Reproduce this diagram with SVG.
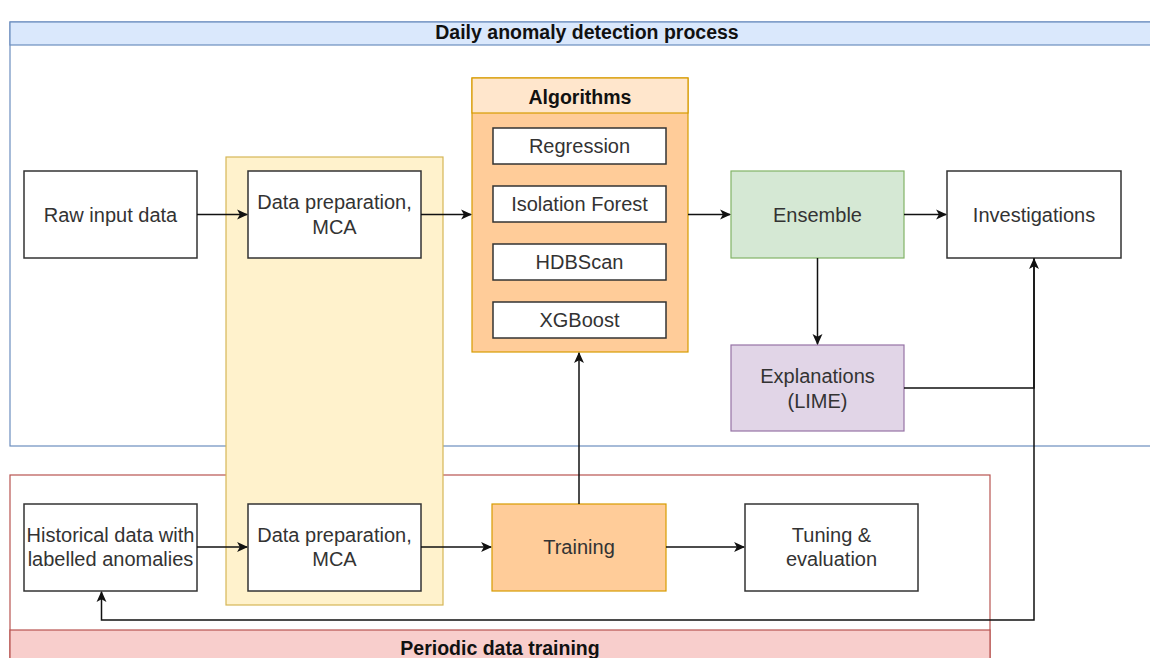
<svg xmlns="http://www.w3.org/2000/svg" width="1150" height="658" viewBox="0 0 1150 658">
<style>
text{font-family:"Liberation Sans",Arial,sans-serif;font-size:20px;fill:#333;text-anchor:middle;dominant-baseline:central}
.b{font-weight:bold;fill:#111;font-size:19.5px}
.plain{fill:#fff;stroke:#333;stroke-width:1.5}
.c{fill:none;stroke:#111;stroke-width:1.5}
</style>
<defs>
<marker id="ah" viewBox="0 0 10 10" refX="9" refY="5" markerWidth="11" markerHeight="11" markerUnits="userSpaceOnUse" orient="auto">
<path d="M0,0.5 L10,5 L0,9.5 L2.5,5 z" fill="#111"/>
</marker>
</defs>
<rect width="1150" height="658" fill="#fff"/>
<g id="daily">
<rect x="10" y="22" width="1150" height="424" fill="#fff" stroke="#6c8ebf" stroke-width="1.2"/>
<rect x="10" y="22" width="1150" height="23" fill="#dae8fc" stroke="#6c8ebf" stroke-width="1.2"/>
<text class="b" x="587" y="32">Daily anomaly detection process</text>
</g>
<g id="periodic">
<rect x="10" y="475" width="980" height="200" fill="none" stroke="#b85450" stroke-width="1.2"/>
<rect x="10" y="630" width="980" height="45" fill="#f8cecc" stroke="#b85450" stroke-width="1.2"/>
<text class="b" x="500" y="648">Periodic data training</text>
</g>
<g id="prep-band"><rect x="226" y="157" width="217" height="448" fill="#fff2cc" stroke="#d6b656" stroke-width="1.2"/></g>
<g id="raw"><rect class="plain" x="24" y="171" width="173" height="87"/><text x="110.5" y="214.5">Raw input data</text></g>
<g id="prep1"><rect class="plain" x="248" y="171" width="173" height="87"/><text x="334.5" y="202">Data preparation,</text><text x="334.5" y="227">MCA</text></g>
<g id="algorithms">
<rect x="472" y="78" width="216" height="274" fill="#ffcc99" stroke="#d79b00" stroke-width="1.2"/>
<rect x="472" y="78" width="216" height="35" fill="#ffe6cc" stroke="#d79b00" stroke-width="1.2"/>
<text class="b" x="580" y="97">Algorithms</text>
</g>
<g id="regression"><rect class="plain" x="493" y="128" width="173" height="36"/><text x="579.5" y="146">Regression</text></g>
<g id="iforest"><rect class="plain" x="493" y="186" width="173" height="36"/><text x="579.5" y="204">Isolation Forest</text></g>
<g id="hdbscan"><rect class="plain" x="493" y="244" width="173" height="36"/><text x="579.5" y="262">HDBScan</text></g>
<g id="xgboost"><rect class="plain" x="493" y="302" width="173" height="36"/><text x="579.5" y="320">XGBoost</text></g>
<g id="ensemble"><rect x="731" y="171" width="173" height="87" fill="#d5e8d4" stroke="#82b366" stroke-width="1.2"/><text x="817.5" y="214.5">Ensemble</text></g>
<g id="investigations"><rect class="plain" x="947" y="171" width="174" height="87"/><text x="1034" y="214.5">Investigations</text></g>
<g id="explanations"><rect x="731" y="345" width="173" height="86" fill="#e1d5e7" stroke="#9673a6" stroke-width="1.2"/><text x="817.5" y="376">Explanations</text><text x="817.5" y="401">(LIME)</text></g>
<g id="historical"><rect class="plain" x="24" y="504" width="173" height="87"/><text x="110.5" y="535">Historical data with</text><text x="110.5" y="559">labelled anomalies</text></g>
<g id="prep2"><rect class="plain" x="248" y="504" width="173" height="87"/><text x="334.5" y="535">Data preparation,</text><text x="334.5" y="559">MCA</text></g>
<g id="training"><rect x="492" y="504" width="174" height="87" fill="#ffcc99" stroke="#d79b00" stroke-width="1.2"/><text x="579" y="547">Training</text></g>
<g id="tuning"><rect class="plain" x="745" y="504" width="173" height="87"/><text x="831.5" y="535">Tuning &amp;</text><text x="831.5" y="559">evaluation</text></g>
<g id="connectors">
<path class="c" d="M197,214.5 H247" marker-end="url(#ah)"/>
<path class="c" d="M421,214.5 H471" marker-end="url(#ah)"/>
<path class="c" d="M688,214.5 H730" marker-end="url(#ah)"/>
<path class="c" d="M904,214.5 H946" marker-end="url(#ah)"/>
<path class="c" d="M817.5,258 V344" marker-end="url(#ah)"/>
<path class="c" d="M904,388 H1034 V259" marker-end="url(#ah)"/>
<path class="c" d="M1034,258 V620 H101.5 V592" marker-end="url(#ah)"/>
<path class="c" d="M197,547 H247" marker-end="url(#ah)"/>
<path class="c" d="M421,547 H491" marker-end="url(#ah)"/>
<path class="c" d="M666,547 H744" marker-end="url(#ah)"/>
<path class="c" d="M579,504 V353" marker-end="url(#ah)"/>
</g>
</svg>
